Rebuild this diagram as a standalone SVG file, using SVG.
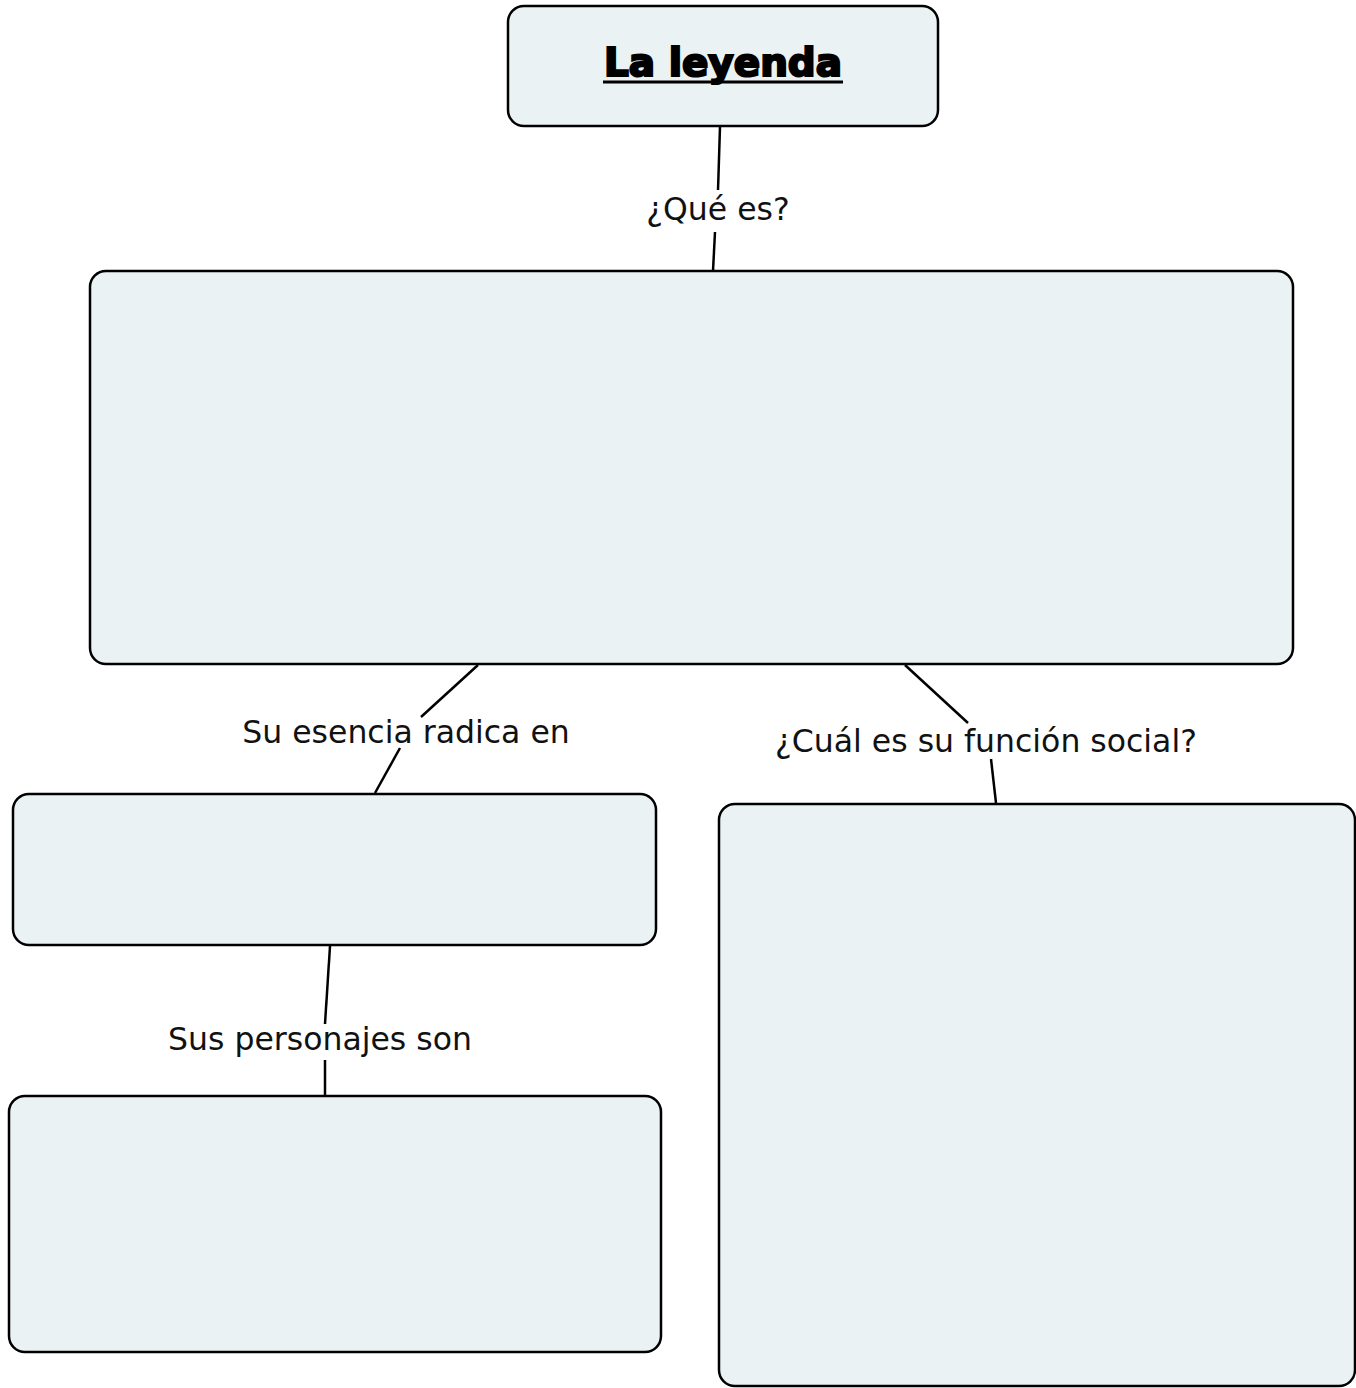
<svg xmlns="http://www.w3.org/2000/svg" width="1356" height="1388" viewBox="0 0 1356 1388">
<style>
.node{fill:#eaf2f4;stroke:#000;stroke-width:2.5}
.conn line{stroke:#000;stroke-width:2.5}
.lbl{font-family:"DejaVu Sans",Verdana,sans-serif;font-size:31.5px;fill:#111;text-anchor:middle}
.title{font-family:"DejaVu Sans",Verdana,sans-serif;font-weight:bold;font-size:39px;fill:#000;text-anchor:middle;stroke:#000;stroke-width:2.2}
</style>
<rect width="1356" height="1388" fill="#fff"/>
<g id="connectors" class="conn">
<line x1="720" y1="127" x2="718" y2="190"/>
<line x1="715" y1="232" x2="713" y2="271"/>
<line x1="478" y1="665" x2="421" y2="717"/>
<line x1="400" y1="748" x2="375" y2="793"/>
<line x1="905" y1="665" x2="968" y2="723"/>
<line x1="991" y1="759" x2="996" y2="803"/>
<line x1="330" y1="946" x2="325" y2="1024"/>
<line x1="325" y1="1060" x2="325" y2="1095"/>
</g>
<g id="labels">
<text class="lbl" x="718" y="220">¿Qué es?</text>
<text class="lbl" x="406" y="743">Su esencia radica en</text>
<text class="lbl" x="986" y="752">¿Cuál es su función social?</text>
<text class="lbl" x="320" y="1050">Sus personajes son</text>
</g>
<g id="node-title">
<rect class="node" x="508" y="6" width="430" height="120" rx="16"/>
<text class="title" x="723" y="76" textLength="238" lengthAdjust="spacingAndGlyphs">La leyenda</text>
<line x1="603" y1="82" x2="843" y2="82" stroke="#000" stroke-width="3"/>
</g>
<g id="node-definition"><rect class="node" x="90" y="271" width="1203" height="393" rx="16"/></g>
<g id="node-essence"><rect class="node" x="13" y="794" width="643" height="151" rx="16"/></g>
<g id="node-characters"><rect class="node" x="9" y="1096" width="652" height="256" rx="16"/></g>
<g id="node-function"><rect class="node" x="719" y="804" width="636" height="582" rx="16"/></g>
</svg>
